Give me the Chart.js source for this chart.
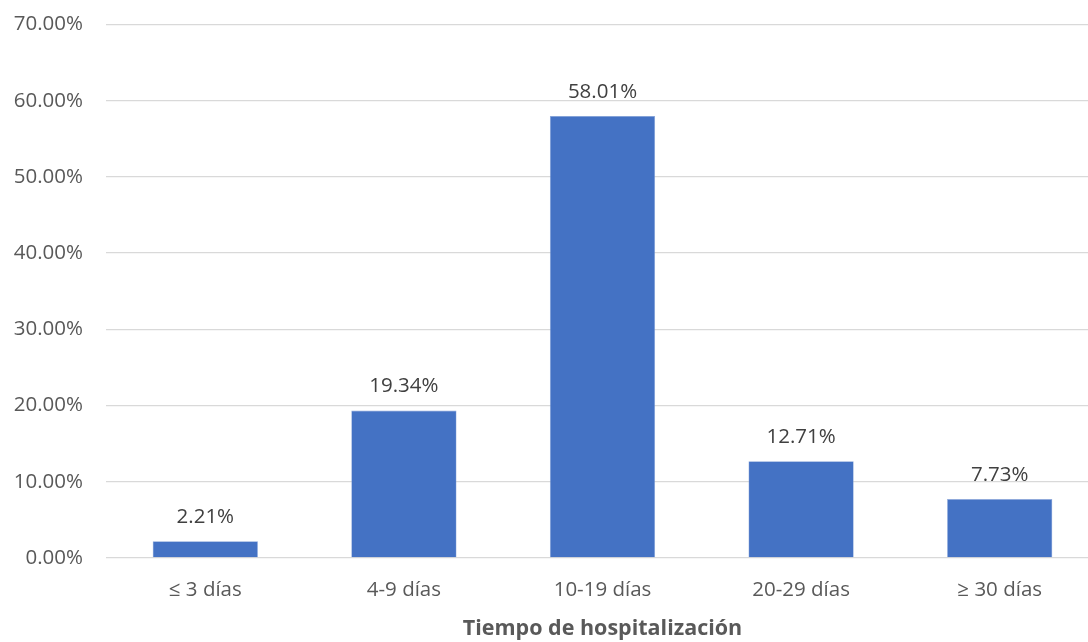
<!DOCTYPE html>
<html>
<head>
<meta charset="utf-8">
<script src="https://cdn.jsdelivr.net/npm/chart.js@4"></script>
<style>
  html, body { margin: 0; padding: 0; background: #fff; overflow: hidden; }
  #wrap { width: 1088px; height: 642px; overflow: hidden; position: relative; }
  canvas { display: block; }
</style>
</head>
<body>
<div id="wrap"><canvas id="c" width="1100" height="642"></canvas></div>
<script>
// Estancia hospitalaria: porcentaje de pacientes por rango de días
const categories = ['≤ 3 días', '4-9 días', '10-19 días', '20-29 días', '≥ 30 días'];
const percentages = [2.21, 19.34, 58.01, 12.71, 7.73];
const yTicks = [0, 10, 20, 30, 40, 50, 60, 70];
const xTitle = 'Tiempo de hospitalización';

const FONT = '"Open Sans", sans-serif';

// Etiquetas de valor encima de cada barra
const valueLabels = {
  id: 'valueLabels',
  afterDatasetsDraw(chart) {
    const ctx = chart.ctx;
    const meta = chart.getDatasetMeta(0);
    ctx.save();
    ctx.font = '20.5px ' + FONT;
    ctx.fillStyle = '#404040';
    ctx.textAlign = 'center';
    ctx.textBaseline = 'middle';
    meta.data.forEach((bar, i) => {
      const v = chart.data.datasets[0].data[i];
      ctx.fillText(v.toFixed(2) + '%', bar.x, bar.y - 24);
    });
    ctx.restore();
  }
};

new Chart(document.getElementById('c'), {
  type: 'bar',
  data: {
    labels: categories,
    datasets: [{
      data: percentages,
      backgroundColor: '#4472C4',
      borderColor: '#8EA9DB',
      borderWidth: 0.6,
      categoryPercentage: 1,
      barPercentage: 0.53
    }]
  },
  options: {
    responsive: false,
    animation: false,
    devicePixelRatio: 1,
    layout: { padding: { top: 24.5, right: 1, bottom: 0, left: 0 } },
    plugins: {
      legend: { display: false },
      tooltip: { enabled: false }
    },
    scales: {
      x: {
        grid: { display: false, drawTicks: false },
        border: { display: false },
        ticks: {
          color: '#595959',
          font: { family: FONT, size: 20.5 },
          padding: 20,
          maxRotation: 0
        },
        title: {
          display: true,
          text: xTitle,
          color: '#595959',
          font: { family: FONT, size: 21.5, weight: 'bold' },
          padding: { top: 0, bottom: 0 }
        },
        afterFit(scale) { scale.height = 84; }
      },
      y: {
        min: 0,
        max: 70,
        afterBuildTicks(scale) { scale.ticks = yTicks.map(v => ({ value: v })); },
        grid: { color: '#D9D9D9', lineWidth: 1.3, drawTicks: false },
        border: { display: false },
        ticks: {
          color: '#595959',
          font: { family: FONT, size: 20.5 },
          padding: 23,
          callback: v => v.toFixed(2) + '%'
        },
        afterFit(scale) {
          scale.width = 106;
          scale.paddingTop = 0;
          scale.paddingBottom = 0;
        }
      }
    }
  },
  plugins: [valueLabels]
});
</script>
</body>
</html>
